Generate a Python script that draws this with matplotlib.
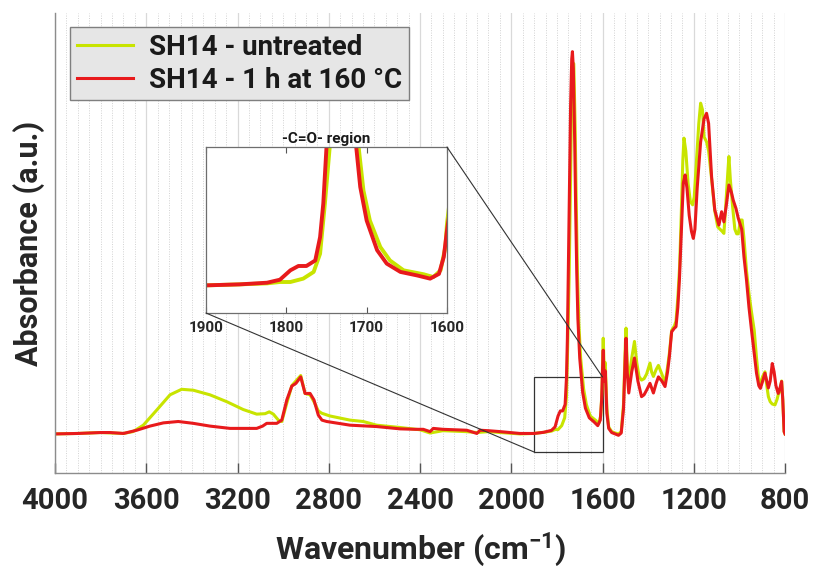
import matplotlib
matplotlib.use('Agg')
import matplotlib.pyplot as plt
from matplotlib.patches import Rectangle, ConnectionPatch
from matplotlib.ticker import MultipleLocator

plt.rcParams['font.family'] = ['Roboto', 'DejaVu Sans']
plt.rcParams['font.weight'] = 'bold'
plt.rcParams['mathtext.fontset'] = 'custom'
plt.rcParams['mathtext.rm'] = 'Roboto:bold'
plt.rcParams['mathtext.bf'] = 'Roboto:bold'
plt.rcParams['mathtext.default'] = 'rm'

# spectra (wavenumber in cm-1, absorbance in a.u.)
wn_untreated = [4000, 3900, 3800, 3700, 3658, 3613, 3554, 3496, 3445, 3394, 3321, 3247, 3175,
                3116, 3079, 3061, 3043, 3021, 3006, 2984, 2962, 2944, 2923, 2904, 2882, 2865,
                2846, 2831, 2795, 2707, 2649, 2590, 2488, 2400, 2356, 2300, 2200, 2151, 2100,
                2049, 1962, 1900, 1858, 1824, 1808, 1795, 1779, 1766, 1758, 1752, 1746, 1740,
                1735, 1730, 1726, 1720, 1715, 1710, 1704, 1696, 1683, 1671, 1654, 1629, 1617,
                1608, 1602, 1600, 1597, 1593, 1588, 1581, 1573, 1560, 1545, 1530, 1518, 1508,
                1500, 1497, 1492, 1485, 1472, 1460, 1450, 1440, 1429, 1418, 1407, 1392, 1385,
                1377, 1365, 1355, 1340, 1326, 1315, 1307, 1297, 1285, 1278, 1270, 1262, 1255,
                1248, 1243, 1235, 1225, 1215, 1205, 1198, 1188, 1178, 1170, 1162, 1155, 1144,
                1135, 1122, 1108, 1095, 1085, 1075, 1068, 1060, 1050, 1046, 1040, 1030, 1020,
                1012, 1005, 995, 988, 980, 969, 958, 947, 935, 925, 915, 908, 898, 888, 880,
                873, 865, 856, 844, 835, 830, 822, 815, 810, 804, 800]
abs_untreated = [0.085, 0.086, 0.088, 0.086, 0.090, 0.104, 0.137, 0.170, 0.182, 0.180, 0.170, 0.155, 0.138,
                 0.128, 0.129, 0.133, 0.128, 0.115, 0.112, 0.152, 0.190, 0.200, 0.212, 0.173, 0.170, 0.155,
                 0.135, 0.130, 0.124, 0.115, 0.112, 0.104, 0.099, 0.094, 0.087, 0.092, 0.090, 0.088, 0.090,
                 0.088, 0.085, 0.086, 0.0885, 0.091, 0.0945, 0.0945, 0.103, 0.120, 0.166, 0.293, 0.436, 0.65,
                 0.82, 0.89, 0.89, 0.75, 0.58, 0.436, 0.326, 0.250, 0.183, 0.149, 0.124, 0.114, 0.107,
                 0.124, 0.183, 0.242, 0.293, 0.230, 0.240, 0.140, 0.100, 0.090, 0.087, 0.085, 0.090, 0.150,
                 0.280, 0.315, 0.240, 0.200, 0.250, 0.286, 0.240, 0.210, 0.202, 0.205, 0.215, 0.239, 0.220,
                 0.210, 0.225, 0.234, 0.215, 0.195, 0.230, 0.260, 0.310, 0.320, 0.330, 0.380, 0.450, 0.560,
                 0.680, 0.728, 0.700, 0.630, 0.590, 0.583, 0.600, 0.680, 0.760, 0.804, 0.790, 0.731, 0.720,
                 0.700, 0.640, 0.570, 0.535, 0.530, 0.525, 0.521, 0.580, 0.660, 0.688, 0.640, 0.580, 0.530,
                 0.520, 0.520, 0.550, 0.550, 0.510, 0.440, 0.390, 0.350, 0.310, 0.250, 0.200, 0.195, 0.210, 0.220, 0.190,
                 0.166, 0.155, 0.150, 0.148, 0.160, 0.170, 0.180, 0.200, 0.160, 0.090, 0.085]

wn_heated = [4000, 3900, 3800, 3759, 3700, 3642, 3584, 3525, 3460, 3394, 3321, 3233, 3116,
             3090, 3072, 3028, 3006, 2984, 2962, 2944, 2923, 2904, 2882, 2865, 2846, 2830,
             2809, 2707, 2590, 2488, 2420, 2386, 2356, 2342, 2300, 2195, 2151, 2137, 2100,
             2049, 1962, 1900, 1858, 1824, 1808, 1795, 1785, 1775, 1764, 1758, 1754, 1750,
             1745, 1740, 1735, 1732, 1728, 1722, 1718, 1713, 1708, 1700, 1687, 1675, 1658,
             1637, 1621, 1610, 1604, 1600, 1597, 1593, 1588, 1581, 1573, 1560, 1545, 1530,
             1518, 1508, 1500, 1497, 1492, 1485, 1472, 1460, 1445, 1429, 1418, 1407, 1392,
             1377, 1365, 1355, 1340, 1326, 1315, 1307, 1297, 1285, 1278, 1270, 1263, 1255,
             1246, 1238, 1230, 1220, 1210, 1202, 1195, 1185, 1170, 1155, 1144, 1135, 1122,
             1108, 1090, 1078, 1068, 1058, 1046, 1035, 1027, 1015, 1005, 990, 980, 969, 958,
             947, 935, 925, 915, 908, 898, 888, 880, 873, 865, 856, 848, 840, 830, 822, 815,
             810, 804, 800]
abs_heated = [0.085, 0.086, 0.088, 0.088, 0.086, 0.093, 0.102, 0.109, 0.112, 0.108, 0.102, 0.097, 0.097,
              0.102, 0.108, 0.108, 0.115, 0.159, 0.189, 0.195, 0.209, 0.173, 0.173, 0.159, 0.126, 0.115,
              0.112, 0.104, 0.101, 0.096, 0.095, 0.095, 0.090, 0.097, 0.095, 0.093, 0.086, 0.093, 0.092,
              0.090, 0.086, 0.086, 0.0885, 0.0927, 0.1003, 0.124, 0.135, 0.135, 0.149, 0.208, 0.293, 0.436,
              0.62, 0.80, 0.90, 0.916, 0.88, 0.72, 0.58, 0.436, 0.335, 0.250, 0.175, 0.141, 0.120,
              0.111, 0.103, 0.115, 0.158, 0.225, 0.267, 0.200, 0.222, 0.130, 0.097, 0.088, 0.085, 0.082,
              0.087, 0.140, 0.260, 0.293, 0.220, 0.174, 0.220, 0.250, 0.200, 0.166, 0.170, 0.180, 0.195,
              0.174, 0.195, 0.209, 0.200, 0.188, 0.220, 0.253, 0.307, 0.315, 0.318, 0.360, 0.420, 0.520,
              0.630, 0.648, 0.620, 0.560, 0.525, 0.510, 0.530, 0.620, 0.720, 0.770, 0.782, 0.760, 0.644,
              0.572, 0.539, 0.568, 0.546, 0.580, 0.626, 0.610, 0.593, 0.575, 0.554, 0.530, 0.470, 0.420, 0.360,
              0.311, 0.260, 0.217, 0.190, 0.184, 0.200, 0.217, 0.200, 0.185, 0.200, 0.238, 0.220, 0.190, 0.173, 0.185, 0.199,
              0.160, 0.090, 0.085]

x_ticks = [4000, 3600, 3200, 2800, 2400, 2000, 1600, 1200, 800]
inset_ticks = [1900, 1800, 1700, 1600]
labels = ['SH14 - untreated', 'SH14 - 1 h at 160 °C']
c_untreated = '#c8e400'
c_heated = '#e81a1c'

fig = plt.figure(figsize=(8.13, 5.71), dpi=100)
ax = fig.add_axes([0.0677, 0.1716, 0.8979, 0.8056])

ax.plot(wn_untreated, abs_untreated, color=c_untreated, lw=2.2, label=labels[0])
ax.plot(wn_heated, abs_heated, color=c_heated, lw=2.2, label=labels[1])

ax.set_xlim(4000, 800)
ax.set_ylim(0, 1)
ax.set_xticks(x_ticks)
ax.set_yticks([])
ax.xaxis.set_minor_locator(MultipleLocator(50))
ax.grid(which='major', axis='x', color='#d9d9d9', lw=0.9, ls='-')
ax.grid(which='minor', axis='x', color='#d2d2d2', lw=0.7, ls=(0, (1, 1.5)))
ax.set_axisbelow(True)
for s in ['top', 'right']:
    ax.spines[s].set_visible(False)
for s in ['left', 'bottom']:
    ax.spines[s].set_color('#8c8c8c')
    ax.spines[s].set_linewidth(1.0)
ax.tick_params(axis='x', which='major', direction='in', length=7, width=1, color='#555555',
               labelsize=21, labelcolor='#262626', pad=10)
ax.tick_params(axis='x', which='minor', length=0)
ax.set_xlabel('Wavenumber (cm$^{-1}$)', fontsize=23, fontweight='bold', color='#262626', labelpad=11)
ax.set_ylabel('Absorbance (a.u.)', fontsize=22, fontweight='bold', color='#262626', labelpad=7)

leg = ax.legend(loc='upper left', bbox_to_anchor=(0.0205, 0.9696), borderaxespad=0,
                fontsize=20, fancybox=False, framealpha=1, facecolor='#e6e6e6',
                edgecolor='#7f7f7f', handlelength=2.0, handletextpad=0.6,
                borderpad=0.25, labelspacing=0.2)
leg.get_frame().set_linewidth(1.0)
for t in leg.get_texts():
    t.set_color('#1a1a1a')

# inset: carbonyl region
axins = fig.add_axes([0.2534, 0.4518, 0.2964, 0.2907])
axins.plot(wn_untreated, abs_untreated, color=c_untreated, lw=2.8)
axins.plot(wn_heated, abs_heated, color=c_heated, lw=2.8)
axins.set_xlim(1900, 1600)
axins.set_ylim(0.016, 0.436)
axins.set_xticks(inset_ticks)
axins.set_yticks([])
axins.tick_params(axis='x', direction='in', length=4, top=True, color='#555555',
                  labelsize=11, labelcolor='#262626', pad=6)
for s in axins.spines.values():
    s.set_color('#6e6e6e')
    s.set_linewidth(0.9)
axins.set_title('-C=O- region', fontsize=11, fontweight='bold', color='#1a1a1a', pad=3)

# zoom box and connector lines
ax.add_patch(Rectangle((1600, 0.0457), 300, 0.163, fill=False, ec='#333333', lw=0.9))
con1 = ConnectionPatch(xyA=(1600, 0.436), coordsA=axins.transData,
                       xyB=(1600, 0.2087), coordsB=ax.transData, color='#333333', lw=0.8)
con2 = ConnectionPatch(xyA=(1900, 0.016), coordsA=axins.transData,
                       xyB=(1900, 0.0457), coordsB=ax.transData, color='#333333', lw=0.8)
fig.add_artist(con1)
fig.add_artist(con2)

fig.savefig('out.png', dpi=100)
